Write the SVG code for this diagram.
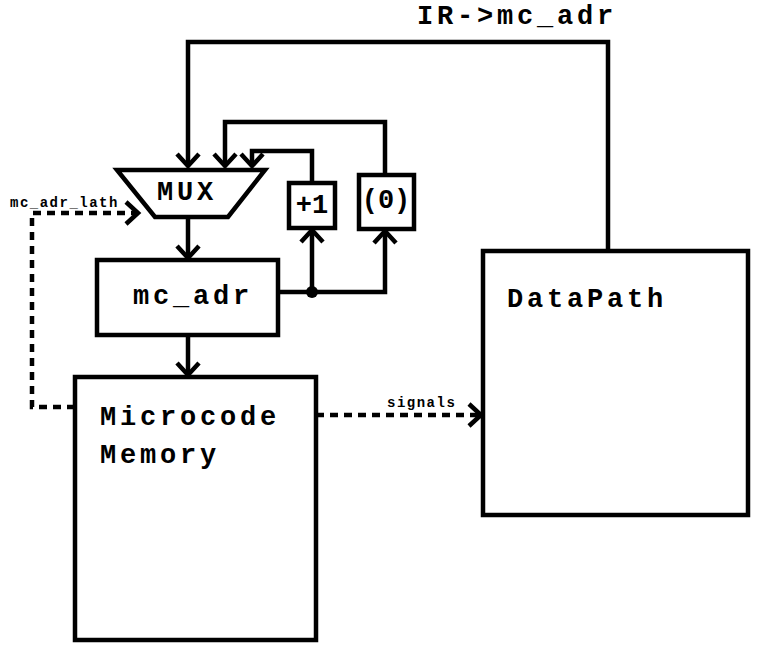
<svg xmlns="http://www.w3.org/2000/svg" width="763" height="651" viewBox="0 0 763 651">
<style>
.box{fill:#fff;stroke:#000;stroke-width:4.5}
.ln{fill:none;stroke:#000;stroke-width:4.5;stroke-linejoin:miter}
.dash{fill:none;stroke:#000;stroke-width:4.5;stroke-dasharray:8 6}
.big{font-family:"Liberation Mono","Courier New",monospace;font-weight:bold;font-size:27px;letter-spacing:3.8px;fill:#000}
.mid{font-family:"Liberation Mono","Courier New",monospace;font-weight:bold;font-size:27px;fill:#000}
.small{font-family:"Liberation Mono","Courier New",monospace;font-weight:bold;font-size:14px;letter-spacing:1.5px;fill:#000}
</style>
<defs>
<marker id="arr" markerUnits="userSpaceOnUse" viewBox="-16 -16 32 32" markerWidth="32" markerHeight="32" refX="0" refY="0" orient="auto">
<path d="M-12,-11 L0,0 L-12,11" fill="none" stroke="#000" stroke-width="4.5" stroke-dasharray="none"/>
</marker>
</defs>
<rect width="763" height="651" fill="#fff"/>
<g id="connectors">
<path class="ln" d="M608,251 V42 H188 V166" marker-end="url(#arr)"/>
<path class="ln" d="M385,175 V122 H225 V166" marker-end="url(#arr)"/>
<path class="ln" d="M312,183 V151 H252 V166" marker-end="url(#arr)"/>
<path class="ln" d="M188,217 V258" marker-end="url(#arr)"/>
<path class="ln" d="M188,335 V375" marker-end="url(#arr)"/>
<path class="ln" d="M278,292 H385 V231" marker-end="url(#arr)"/>
<path class="ln" d="M312,292 V230" marker-end="url(#arr)"/>
<circle cx="312" cy="292" r="6" fill="#000"/>
<path class="dash" d="M75,407 H32 V213 H138" marker-end="url(#arr)"/>
<path class="dash" d="M316,415 H481" marker-end="url(#arr)"/>
<text class="small" x="10" y="207">mc_adr_lath</text>
<text class="small" x="387" y="407">signals</text>
<text class="big" x="417" y="24">IR-&gt;mc_adr</text>
</g>
<g id="mux">
<path class="box" d="M117,170 H265 L228,217 H155 Z"/>
<text class="big" x="157" y="200">MUX</text>
</g>
<g id="plus1">
<rect class="box" x="289" y="183" width="46" height="45"/>
<text class="mid" x="312" y="213" text-anchor="middle">+1</text>
</g>
<g id="zero">
<rect class="box" x="359" y="175" width="55" height="54"/>
<text class="mid" x="386" y="208" text-anchor="middle">(0)</text>
</g>
<g id="mc_adr">
<rect class="box" x="97" y="260" width="181" height="75"/>
<text class="big" x="133" y="304">mc_adr</text>
</g>
<g id="microcode">
<rect class="box" x="75" y="377" width="241" height="263"/>
<text class="big" x="100" y="425">Microcode</text>
<text class="big" x="100" y="463">Memory</text>
</g>
<g id="datapath">
<rect class="box" x="483" y="251" width="265" height="264"/>
<text class="big" x="507" y="307">DataPath</text>
</g>
</svg>
